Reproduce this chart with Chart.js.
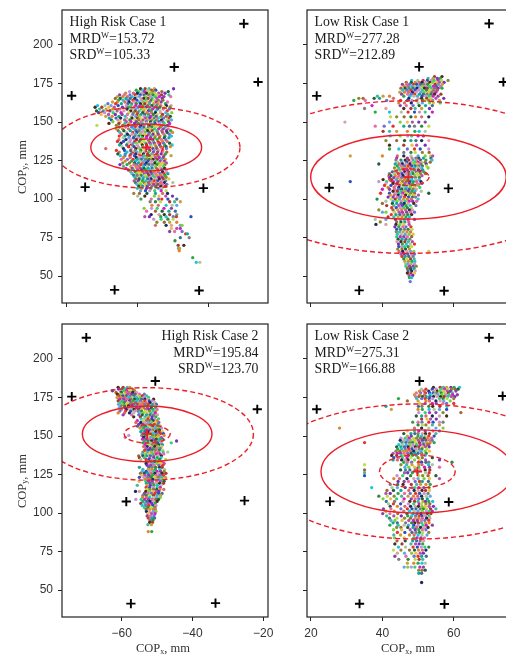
<!DOCTYPE html>
<html><head><meta charset="utf-8">
<script src="https://cdn.jsdelivr.net/npm/chart.js@4"></script>
<style>html,body{margin:0;padding:0;background:#fff;width:506px;height:656px;overflow:hidden}
canvas{position:absolute;display:block}</style></head><body>
<canvas id="a"></canvas><canvas id="b"></canvas><canvas id="c"></canvas><canvas id="d"></canvas>
<script>
const yTicks=[50,75,100,125,150,175,200];
const xTicksHigh1=[-80,-60,-40];
const xTicksHigh2=[-60,-40,-20];
const xTicksLow=[20,40,60];

const sensorsHigh1=[[-30.1,213.8],[-49.7,185.7],[-78.6,167.1],[-74.8,107.8],[-41.5,107.1],[-66.5,41.1],[-42.7,40.7],[-26.1,176]];
const sensorsLow1=[[69.9,213.9],[50.3,185.8],[21.6,167],[25.1,107.4],[58.5,107],[33.5,40.8],[57.3,40.5],[73.9,176]];
const sensorsHigh2=[[-70,213.8],[-50.5,185.7],[-74.1,175.6],[-21.7,167.4],[-58.7,107.5],[-25.3,108.1],[-57.4,41.3],[-33.5,41.6]];
const sensorsLow2=[[69.9,213.8],[50.4,185.7],[21.6,167.4],[73.7,176],[25.3,107.6],[58.6,107.2],[33.6,41.2],[57.4,41]];

const centreHigh1=[-57.6,133.5],centreLow1=[47.3,114.3],centreHigh2=[-52.8,151.4],centreLow2=[49.8,127];
// radii: inner dashed [rx,ry], solid, outer dashed
const radiiHigh1=[[4.8,5.4],[15.6,15.2],[26.4,26.2]];
const radiiLow1=[[5.8,5.4],[27.4,27.3],[49.5,49.5]];
const radiiHigh2=[[6.5,5.9],[18.3,18.1],[30,30]];
const radiiLow2=[[10.6,10.8],[27,27],[43.8,43.8]];

// scatter rows: [y, x, x, x ...]
const rowsHigh1=[
[171.6,-59.2,-57.9,-56.8,-55.3,-49.9],[170.7,-60.4,-58.6,-57.2,-56.1,-54.9],[169.8,-62.3,-59.7,-58.1,-56.7,-55.6,-53.2,-51.4],
[168.7,-63.4,-61.2,-60.1,-58.9,-57.5,-56.3,-55.2,-54.1,-52.3],[167.6,-65.1,-63.8,-62.2,-60.7,-59.3,-58.2,-56.9,-55.7,-54.5,-53.3,-51.2],
[166.5,-65.7,-64.2,-62.9,-61.6,-60.3,-59.5,-57.8,-56.4,-55.1,-53.9,-52.6,-50.7],[165.3,-66.3,-64.9,-63.3,-62.1,-60.8,-59.1,-58.3,-57.1,-55.9,-54.6,-53.1],
[164.2,-65.4,-64.1,-62.7,-61.3,-60.2,-58.8,-57.6,-56.2,-55.4,-54.2,-52.9],[163,-67.1,-65.7,-63.6,-62.4,-60.9,-59.6,-58.4,-57.3,-56.6,-54.8,-53.4,-51.6],
[161.9,-68.4,-66.2,-64.6,-62.8,-61.7,-60.4,-59.2,-58,-56.7,-55.5,-54.3,-52.2],[160.7,-71.3,-69.2,-67.5,-65.5,-63.2,-61.9,-60.6,-59.4,-58.5,-57.2,-56,-54.7,-53.5,-51.9,-50.6],
[159.6,-72,-70.1,-68.1,-66.6,-64.3,-62.6,-61.1,-59.9,-58.7,-57.7,-56.5,-55.3,-53.8,-52.4,-50.9],[158.4,-70.7,-68.9,-67,-65,-63,-61.5,-60.5,-59,-57.9,-56.8,-55.8,-54.4,-52.8,-51.1],
[157.2,-71.6,-69.7,-67.8,-65.8,-63.9,-62,-60.7,-59.6,-58.3,-57,-56.2,-54.9,-53.7,-51.7],[156.1,-71,-69.3,-66.9,-64.7,-62.5,-61.2,-60,-58.6,-57.4,-56.1,-55,-53.6,-52.1,-50.4],
[154.9,-70.3,-68.2,-66.3,-64.4,-62.9,-61.4,-60.2,-59.1,-58,-56.9,-55.6,-54.5,-53,-51.5],[153.7,-69,-67.2,-65.3,-63.5,-61.8,-60.6,-59.5,-58.2,-57.1,-56.3,-54.8,-53.4,-52,-50.8],
[152.6,-68,-66.1,-64.8,-63.1,-61.6,-60.1,-59.3,-57.8,-56.6,-55.4,-54.2,-52.7,-51.2],[151.4,-67.4,-65.6,-63.7,-62.2,-60.8,-59.7,-58.5,-57.3,-56,-54.7,-53.3,-51.8,-50.5],
[150.2,-67,-64.9,-63.2,-61.9,-60.4,-59,-57.6,-56.4,-55.2,-54,-52.9,-51.3],[149.1,-68.1,-65.3,-63.6,-62.4,-60.9,-59.8,-58.7,-57.5,-56.2,-55.1,-53.8,-52.5,-51],
[147.9,-71.5,-66,-64.2,-62.7,-61.3,-60.3,-59.1,-58.1,-56.8,-55.6,-54.3,-53.1,-51.6],[146.8,-65.2,-63.4,-61.7,-60.7,-59.4,-58.3,-57,-56.1,-54.9,-53.6,-52.2],
[145.6,-66.1,-64.3,-62.6,-61.1,-60,-58.9,-57.7,-56.5,-55.3,-54.1,-52.8,-51.4],[144.4,-65.5,-63.9,-62.1,-60.5,-59.6,-58.4,-57.2,-55.9,-54.6,-53.2,-51.9,-50.7],
[143.3,-65,-63.2,-61.4,-60.2,-59,-57.9,-56.7,-55.5,-54.4,-53,-51.7,-50.2],[142.1,-64.6,-62.9,-61.6,-60.6,-59.3,-58.1,-56.9,-55.7,-54.2,-52.6,-51.1],
[140.9,-65.2,-63.6,-62.3,-60.8,-59.7,-58.6,-57.4,-56.2,-55,-53.7,-52.3,-50.5],[139.8,-64.1,-62.5,-61.2,-60,-58.8,-57.6,-56.4,-55.2,-53.9,-52.5,-51.2],
[138.6,-65.3,-63.3,-61.9,-60.4,-59.2,-58.2,-57.1,-55.8,-54.5,-53.3,-52.1],[137.4,-65.7,-64,-62.2,-60.9,-59.5,-58.3,-56.8,-55.6,-54.3,-53,-51.7],
[136.3,-64.7,-62.8,-61.3,-60.3,-59,-57.7,-56.5,-55.3,-54.1,-52.7,-51],[135.1,-65.1,-63.1,-61.5,-60.1,-58.7,-57.5,-56.3,-55.1,-53.8,-52.4,-50.3],
[134,-64.4,-62.6,-61,-59.8,-58.6,-57.3,-56.1,-54.8,-53.5,-52,-50.8],[132.8,-69,-64,-61.8,-60.5,-59.4,-58.1,-57,-55.7,-54.6,-53.2,-51.9],
[131.6,-66,-63.7,-62,-60.7,-59.1,-57.9,-56.6,-55.4,-54.2,-52.9],[130.5,-65.2,-63,-61.4,-60.2,-59.3,-58,-56.9,-55.6,-54.4,-53.1,-51.8],
[129.3,-65.6,-63.5,-61.9,-60.6,-59.6,-58.4,-57.2,-56,-54.7,-53.4,-52.2],[128.2,-64.9,-63.6,-62.2,-60.9,-59.2,-58.2,-56.7,-55.5,-54.3,-52.6,-50.6],
[127,-64,-62.1,-60.4,-59.5,-58.5,-57.4,-56.2,-55,-53.9,-52.8],[125.8,-64.6,-62.9,-61.3,-60.1,-59,-57.8,-56.8,-55.7,-54.5,-53.3,-52.2],
[124.7,-63.5,-61.7,-60.6,-59.4,-58.3,-57.1,-56,-54.9,-53.7,-52.5],[123.5,-64.2,-62.3,-60.9,-59.8,-58.7,-57.6,-56.4,-55.2,-54.1,-53,-51.9],
[122.4,-65,-63,-61.1,-60.3,-59.1,-58,-56.9,-55.8,-54.6,-53.5,-52.3],[121.2,-64,-61.9,-60.5,-59.6,-58.4,-57.3,-56.1,-55,-53.8,-52.7],
[120,-63.3,-61.5,-60.2,-59.2,-58.2,-57,-55.9,-54.7,-53.4,-52.4],[118.9,-62.6,-61.2,-60,-58.9,-57.7,-56.7,-55.5,-54.3,-53.2,-51.9],
[117.7,-62,-60.7,-59.7,-58.6,-57.5,-56.3,-55.3,-54.2,-53,-52],[116.5,-61.6,-60.3,-59.3,-58.1,-57.1,-56,-54.9,-53.7,-52.6,-51.5],
[115.4,-61.1,-60.1,-59,-57.9,-56.8,-55.7,-54.6,-53.5,-52.3],[114.2,-60.8,-59.5,-58.4,-57.4,-56.4,-55.2,-54.1,-53.1,-52],
[113.1,-60.5,-59.6,-58.5,-57.2,-56.2,-55,-53.9,-52.8,-51.2],[111.9,-61,-59.8,-58.7,-57.7,-56.5,-55.4,-54.4,-53.3,-52.1],
[110.7,-60.6,-59.4,-58.2,-57,-55.9,-54.8,-53.6,-52.5,-50.1],[109.6,-60.2,-59.1,-57.8,-56.7,-55.5,-54.3,-53,-51.8],[108.4,-59.7,-58.6,-57.3,-56,-54.9,-53.5,-52.2],
[107,-60.1,-58.9,-57.5,-56.3,-54.2,-53.2],[105.5,-59.2,-57.8,-56.6,-55.2,-53.4,-52],[103.7,-61.1,-59.5,-57.4,-55,-53,-51.6],[102,-60,-58,-55.3,-54,-52.1,-50.2],
[100,-59.1,-56.2,-54.1,-53.2,-51.5,-49],[98.3,-56.5,-55,-53.6,-51,-49.6,-48],[96,-56,-54.2,-52,-50.3,-49],[94,-58.2,-56.1,-54.5,-52.6,-50.5],
[92.2,-57.5,-55,-53.1,-51.2,-49.4],[90,-56.2,-54,-52.5,-51,-49],[88.6,-58,-56.7,-53.5,-52,-50,-49.1,-45],[87,-55.5,-53.4,-51.5,-50],
[85,-54.6,-52.5,-51,-49],[83,-55,-52,-50.5,-48,-47.5],[81,-50.5,-49,-48],[79,-51,-49.6,-47.5],[77.5,-46.5,-46],[75,-48,-45.5],
[73,-49.5],[70,-47,-48.6],[68,-48.5,-48.2],[66.5,-48.3],[62,-44.5],[59,-43.5,-42.5]
];
const rowsLow1=[
[179.5,56.7,54.6],[178.3,52.8,54.2,55.4,56.2],[177,48.2,49.9,51.4,52.6,53.7,54.5,55.6,56.6,58.4],[175.8,46.7,48.1,49.2,50.3,51.1,52.2,53.3,54.1,55.2,56,57.3],
[174.5,45.6,46.8,47.6,48.7,49.6,50.7,51.6,52.7,53.6,54.8,55.7,56.8],[173.2,46.1,47.2,48.3,49.1,50.2,51.3,52.1,53.2,54.3,55.1,56.3],
[172,45.2,46.4,47.5,48.6,49.7,50.6,51.8,52.6,53.7,54.7,55.6,56.7],[170.7,45.7,46.9,48,49.2,50.1,51.2,52.4,53.4,54.4,55.4],
[169.4,44.9,46.2,47.3,48.4,49.5,50.8,51.7,52.9,53.9,55],[168.1,45.4,47.1,48.1,49,50.4,51.5,52.5,53.6,54.6,56.4],[166.8,38.6,40.2,42,46,47.7,48.8,49.8,51.1,52.2,53.1,54.2,55.6],
[165.4,33.4,34.6,37.7,39.2,43.1,47.4,50.1,51,52.4,53.6,55,57.2],[164,32,35.2,41.2,45.1,47,48.3,49.6,51.3,52,53,54.1,56],[162.4,44.6,46.2,48.1,50,51.2,53.2,54.3,56.2],
[160.7,37.1,45,46.7,48.6,50.3,52.1,54],[158.8,35,41,46,48,49.2,51,53.2],[156.5,38,42,45.3,47.2,49,50.4,52,54],[153.4,42.3,44,46.1,48,49.3,51,53],
[150,29.5,42,45,47,48.4,50.2,52],[147.3,38,40.5,43,46,47.6,49,51,53],[144,40.2,42,44,47,49.1,50.3,52],[141,42.2,45,47.1,48.2,50,51.5],
[138,41,44,46.2,48,49.4,51,53],[135,42,46,48.3,49.6,52],[132.5,42,44.6,47,49,50.6,53],[130.3,46,48,49.2,51.2,53.1],[128,31,40,44.2,46,48,50,52,53.5,54.1],
[126.6,44,47,48.3,49.4,50.2,51.5,53.6],[125.3,43.8,45.2,46.4,47.4,48.6,49.6,50.7,52.2,53.9],[124,44.2,45.5,46.8,48,49.1,50,51,52,53.4],
[122.8,39,43.6,44.7,45.6,46.6,47.7,48.8,49.8,50.8,52.3],[121.5,44.2,45.3,46.2,47.2,48.2,49.2,50.2,51.2,52.4],[120.2,43.4,44.6,45.7,46.8,47.8,48.9,49.9,51,52.8],
[119,43.8,44.9,46,47,48.1,49,50.1,51.3],[117.7,42.8,44,45.2,46.3,47.4,48.4,49.5,50.5,51.6],[116.5,41.9,43.4,44.5,45.5,46.6,47.6,48.6,49.7,50.7,52.1],
[115.2,42.4,43.6,44.7,45.8,46.9,47.9,49.1,50.2,51.1],[114,42,43.2,44.3,45.4,46.4,47.3,48.3,49.3,50.4],[112.7,40.2,42.6,43.9,45,46.1,47.1,48.2,49.4,50.3],
[111.4,31,39,41.2,43.1,44.4,45.6,46.7,47.7,48.7,49.6,50.8],[110.2,41,43,44.1,45.2,46.3,47.5,48.5,49.8,51.1],[108.9,40.6,42.4,43.7,44.8,45.9,47,48,49.2,50.1],
[107.6,41.6,43.3,44.6,45.7,46.7,47.8,48.9,50.5],[106.4,40,42,43.5,44.5,45.4,46.5,47.5,48.6,49.5],[105.1,43,44.2,45.3,46.2,47.2,48.3,49.1,50.9],
[103.8,39.5,42,43.6,44.7,45.7,46.8,47.9,49,53],[102.6,42.2,43.3,44.4,45.5,46.5,47.6,48.7,50.1],[101.3,41.6,43,44.2,45.1,46.2,47.3,48.4,49.3],
[100,38.5,42.4,43.6,44.8,45.9,47,48.1,50],[98.6,41,43,44.1,45.3,46.4,47.5,48.5,49.6],[97.2,40,42.8,44,45.2,46.1,47.2,48.8],[95.8,41.2,43.2,44.6,45.6,46.6,47.8,49.4],
[94.4,42.6,43.9,45,46,47,48.1],[93,39,43,44.3,45.4,46.5,47.6,48.4],[91.5,40,41,43.4,44.7,45.6,46.8,47.9,49],[90,42.5,43.8,44.9,46,47.1,48.2],
[88.4,41.6,43.2,44.4,45.5,46.6,47.6],[86.8,38,41,43.7,45,46.1,47.2,49],[85.2,39.4,44,45.2,46.3,47.4],[83.6,38.2,41,43.8,44.9,46,47.5],
[82,43.5,44.6,45.7,46.6,48],[80.4,44,45.1,46.2,47.2,48.3],[78.8,43.9,44.8,45.8,46.9,47.9],[77.2,44.2,45.3,46.4,47.5,48.6],[75.6,44,45,46,47,48.2],
[74,44.4,45.5,46.6,47.7],[72.4,44.1,45.2,46.3,47.3,48.4],[70.8,44.5,45.6,46.7,47.8,49],[69.2,44.6,45.4,46.2,47.2,48.2],[67.6,44.3,45.5,46.5,47.6],
[66,44.7,45.7,46.9,47.9,48.8,53],[64.4,45.2,46.1,47.1,48.1,49],[62.8,45.5,46.4,47.4,48.6],[61.2,46,46.9,47.9,48.9],[59.6,46.3,47.3,48.3,49.1],
[58,46.5,47.1,48,49],[56.5,46.6,47.6,48.6,49.5],[55,47,47.9,48.9],[53.5,47.2,48.2,49.2],[52,47,48,49],[50.5,47.5,48.5],[49,47.6,48.2],[46.5,47.8]
];
const rowsHigh2=[
[181.6,-61,-59.6,-58.4,-57.7],[180.5,-60.9,-60,-59,-58.1,-57],[179.4,-62.6,-60.4,-59.4,-58.6,-57.4,-56.4],[178.3,-61.6,-60.1,-58.8,-57.9,-56.9,-55.8],
[177.2,-61.2,-60.3,-59.2,-58.3,-57.2,-56.2,-55,-53.6],[176.1,-60.8,-59.7,-58.7,-57.6,-56.6,-55.4,-54.2,-53],[175,-61.3,-60.2,-59.1,-58,-57,-55.9,-54.8,-53.7,-52.4],
[173.9,-60.6,-59.5,-58.5,-57.5,-56.4,-55.5,-54.4,-53.4,-52.6,-51],[172.8,-61,-59.9,-58.9,-57.8,-56.8,-55.7,-54.7,-53.5,-52.2,-51.4],[171.7,-60.4,-59.3,-58.2,-57.3,-56.1,-55.2,-54.1,-53.1,-52,-50.6],
[170.6,-60.9,-59.7,-58.6,-57.6,-56.7,-55.6,-54.6,-53.6,-52.5,-51.3,-50.2],[169.5,-60.2,-59.2,-58.1,-57.1,-56.2,-55.1,-54,-52.9,-51.8,-50.6],[168.4,-60.7,-59,-58,-56.9,-55.8,-54.8,-53.8,-52.7,-51.6,-50.4],
[167.3,-60.1,-58.7,-57.7,-56.5,-55.3,-54.3,-53.2,-52.3,-51.2,-50],[166.2,-60.5,-58.9,-57.4,-56.3,-55.4,-54.4,-53.3,-52.1,-51,-50.3],[165,-61,-59.2,-57.8,-56.6,-55,-53.9,-52.8,-51.7,-50.5],
[163.8,-59.6,-57.2,-55.2,-54.2,-53,-52,-51,-49.9],[162.5,-56.6,-54.7,-53.4,-52.4,-51.4,-50.4],[161.2,-54.5,-53.6,-52.6,-51.5,-50.7,-49.6],[160,-55.6,-54.1,-53,-52.2,-51.1,-50],
[158.8,-56,-54.6,-53.5,-52.5,-51.6,-50.5,-49.5],[157.6,-55.2,-54,-52.9,-51.9,-50.8,-49.8],[156.4,-55.5,-54.3,-53.3,-52.3,-51.3,-50.2,-49.1],[155.2,-54.8,-53.8,-52.7,-51.7,-50.6,-49.6,-48.7],
[154,-54.2,-53.2,-52.1,-51.2,-50.1,-49.3],[152.8,-54.6,-53.5,-52.6,-51.5,-50.4,-49.4,-48.5],[151.6,-54,-53,-52,-51,-50,-49,-48.2],[150.4,-58,-54.3,-53.3,-52.4,-51.3,-50.3,-49.6,-48],
[149.2,-59,-53.8,-52.8,-51.8,-50.9,-49.9,-48.8],[148,-54.1,-53.1,-52.2,-51.1,-50.2,-49.2,-48.4],[146.8,-53.6,-52.6,-51.6,-50.6,-49.6,-48.6,-44.5],[145.6,-54,-53,-51.9,-50.9,-49.9,-48.9,-46],
[144.4,-53.4,-52.4,-51.4,-50.4,-49.5,-48.5],[143.2,-53.8,-52.8,-51.7,-50.7,-49.7,-48.7],[142,-53.1,-52,-51.1,-50.1,-49.1],[140.8,-53.5,-52.5,-51.5,-50.5,-49.4,-48.4],
[139.6,-54,-52.7,-51.6,-50.6,-49.6,-48.3,-47],[138.4,-54.2,-53.2,-52.2,-51.2,-50.2,-49.2,-48.1],[137.2,-55.2,-54,-52.9,-51.9,-50.9,-49.8,-48.8],[136,-55,-53.6,-52.1,-51,-50,-48.9],
[134.8,-54.6,-53.1,-52.3,-51.3,-50.3,-49.3,-47.6],[133.5,-52.6,-51.7,-50.7,-49.7,-48.6],[132.2,-53.1,-52.1,-51.2,-50.1,-49.1,-48],[131,-52.8,-51.8,-50.8,-49.5,-48.4],
[129.7,-55,-52.3,-51.4,-50.4,-49.3,-48.6],[128.4,-54,-52.5,-51.5,-50.5,-49.2,-47.9],[127.1,-54.2,-53.1,-52,-51,-50,-49,-48],[125.8,-54.7,-53.6,-52.6,-51.6,-50.6,-49.6,-48.6,-47.5],
[124.5,-54.4,-53.4,-52.3,-51.3,-50.2,-49.2,-48.2],[123.2,-55,-53.7,-52.7,-51.7,-50.7,-49.7,-48.7,-47.6],[121.9,-53.3,-52.2,-51.2,-50.3,-49.4,-48.5],[120.6,-55.1,-53.2,-52.4,-51.4,-50.1,-49,-48],
[119.3,-53,-52,-51.1,-50.2,-49.3,-48.2],[118,-55.6,-52.8,-51.9,-50.9,-49.9,-48.9],[116.7,-53.1,-52.1,-51.1,-50,-49.1],[115.4,-52.9,-52,-51,-50.1,-49.2,-48.1],
[114.1,-56.1,-55,-53.2,-52.2,-51.2,-50.2,-49.5],[112.8,-53.6,-52.6,-51.6,-50.6,-49.6,-48.6],[111.5,-54,-53.1,-52,-51,-50,-49],[110.2,-54.1,-53,-52.1,-51.1,-50.1,-49.1],
[108.9,-56,-54.5,-53.5,-52.4,-51.4,-50.4,-49.6],[107.6,-54,-52.9,-52,-50.9,-50],[106.3,-54.6,-53.4,-52.5,-51.5,-50.5],[105,-54.2,-53.2,-52.3,-51.2,-50.3],
[103.7,-53.6,-52.6,-51.6,-50.6],[102.4,-53.1,-52.1,-51.1,-50.5],[101,-53,-52,-51,-50.3],[99.6,-52.6,-51.6,-50.6],[98.2,-52.8,-51.9,-50.9],[96.8,-52.5,-51.5,-50.7],
[95.4,-52,-51.2],[94,-52.1,-51.3],[92.5,-52.6,-51.6],[88,-52.5,-51.5]
];
const rowsLow2=[
[181.6,54.3,56.2,57.1,58,59.2,60.1,61.6],[180.4,51,52.2,54,55.1,56.4,57.4,58.3,59.4,60.4,61.2],[179.2,50.4,51.6,53,54.4,55.4,56,57.2,58.2,59.1,60.6],[178,49.5,50.7,52.1,53.2,54.2,55.2,56.5,57.5,58.5,59.6],
[176.8,49,50.5,51.8,53.4,54.6,55.6,56.7,57.7,58.7,59.7,61],[175.6,49.3,50.2,51.2,52.3,53.3,54.3,55.3,56.3,57.3,58.3,59.3,60.3],[174.3,44.5,49.6,51,52,53.1,54.1,56,57,58.1,60],
[172.8,47,50,52.2,53.2,55,56.2,57.2,59],[171.2,50.5,52,54,55.1,57,58,60],[169.3,41,50.1,51.1,53,54.1,56.1,58.1],[167.3,42.5,50,51.2,53.1,54.5,56,58],[165.2,50.2,52,53.2,55,57,62],
[163,49.5,51,52.2,54,56,58],[161,51,52.5,53.5,55.1],[159,48.5,50,51.1,53,54.2,56,57],[157.2,50,51.2,52.2,54,56],[155.2,28,49,51,53,55,57],[153.3,47,49,50.2,52,54.2,56],
[151.6,46,48,49.1,50,51.2,52.1,53.2,55],[150,47,48.1,50,51,52,53,54.5],[148.6,45.2,46.4,47.5,48.7,49.6,50.7,51.7,52.7,53.8],[147.2,45,46,47,48,49,50.1,51.2,52.2,53.2,54],
[145.8,35,45.5,46.6,47.6,48.5,49.4,50.4,51.4,52.4,53.4,54.5],[144.4,44.6,45.6,46.7,47.7,48.6,49.6,50.6,51.6,52.6,53],[143,44,45.2,46.2,47.2,48.2,49.2,50.2,51.3,52.1,53.1],
[141.6,44.3,45.4,46.4,47.4,48.3,49.3,50.3,51.1,52.5],[140.2,43.8,44.9,45.9,46.8,47.8,48.8,49.8,50.8,52,53.2],[138.8,43,44.2,45.1,46.1,47.1,48.1,49.1,50,51,52.3],
[137.4,42.6,44,45.3,46.3,47.3,48.4,49.5,51,52],[136,43.2,44.5,45.6,46.9,48,50,51.2,54],[134.5,43,44.2,45.4,46.3,47.2,49,50.5,52.1,56],[133,46,47,48.2,50.1,51,52.2,53,59.5],
[131.4,35,45.2,46.8,48.3,50.2,51.1,52.9,54],[129.8,46.3,47.4,49,50.2,51.8,53.2,56],[128,35,45.1,46.5,47.7,49.2,50.5,52,53.3],[126.2,35,46.2,47.1,48.4,49.9,52.1,53.1],[124.3,35,44.1,45.7,47.9,50.2,51.3,52.8,55],
[122.4,43.2,44.8,46.9,48.8,50,51.7,53.2,56],[120.5,44.4,46.1,47.3,49.2,50.4,51.2,52.9],[118.6,42.2,44.3,45.8,48.1,49.6,50.7,52.2,53.4],[116.6,37,42.7,44.2,46.4,48.3,49.1,50.2,51.6,53.1],[114.7,41.3,43.1,45.2,47.4,48.9,50,51.1,52.1,53.2],
[112.8,41,42.2,44.4,46.2,47.8,49.3,50.4,51.7,52.8],[111,39,41.4,43.3,45.4,47.2,48.7,49.9,51,52.3,53.4],[109.3,40.2,42.3,44,46.1,48.1,49.2,50.2,51.2,52.6],[107.6,41.1,43.4,45.8,47.7,49,50,51.4,52.1,53,54.1],
[106,41.7,43.1,45.1,47.3,48.8,50.3,51,52.2,53.3],[104.4,42.2,44.2,46.3,47.9,49.2,50.1,51.1,52,53.1,54.3],[102.8,40.3,42.4,45.2,47,48.3,49.4,50.6,51.5,52.4,53.5,55],[101.2,41,43.3,46,47.6,48.9,50,51.2,52.3,53.2,54],
[99.7,40.1,42.1,44.3,46.9,48.6,49.7,50.8,51.7,52.6,53.6],[98.2,41.2,43.2,45.3,47.1,48.2,49.3,50.3,51.1,52.1,53.1],[96.7,42,44.1,46.2,47.9,49.2,50.2,51.2,52.4,53.3],[95.2,42.4,43.5,45.5,47.4,48.7,49.8,50.9,51.9,53],
[93.7,43,44.2,46.5,48.2,49.1,50.1,51,52.1,53.1],[92.2,42.1,44.4,46.1,47.3,48.8,50,51.4,52.3,54],[90.7,44,45.2,47.1,48.6,49.6,50.7,51.7,52.8],[89.2,43.1,45.4,47.8,49.2,50.2,51.2,52.2],[87.5,44.2,46.3,48.3,49.4,50.4,51.3,53],
[85.8,43.2,45.1,47.6,48.9,50,51.1,52.5],[84,43.4,46.1,48.8,49.7,50.8,51.8],[82,44.1,46.4,48.5,49.6,50.6,51.6],[80,43.5,45.5,48,49.3,50.3,51.3],[78,44.5,46.5,48.6,49.8,50.9,51.9,53],
[76,43.1,45.2,47.6,49,50.1,51.2,52.2],[74,44.2,46.2,48.2,49.4,50.6,51.5],[72,43.5,46.6,48.9,50,51,52.3],[70,44.6,47.2,49.2,50.3,51.3],[67.5,47,48.8,50,51.1,52],[65,46.1,47.1,48.1,49.1,50.5,51.5],
[63,50.2,51.1,52],[61,50.2,51],[55,51]
];
const palette=["#2e8b3d","#d01fc8","#7b2fbf","#e0862a","#13a89a","#2b4fc0","#7fd13b","#a83a2c","#8a8a2e","#e86aa6","#1fc4d8","#1c2a5e",
"#7d7d7d","#33d17a","#b54fb0","#c9a13b","#1f5f3a","#e6342d","#5fa8e8","#4a2a1a","#b8e04a","#8e3fa8","#2aa84a","#d86a6a","#3f6f8f","#c78fd8",
"#e8c04a","#46b89e","#9b6a3a","#6f6fd8","#a8c8a0","#d8a0a8"];

const serif='"Liberation Serif"', sans='"Liberation Sans"';
function flatten(rows){const out=[];rows.forEach(r=>r.slice(1).forEach(x=>out.push({x,y:r[0]})));return out;}
function tup(list){return list.map(p=>({x:p[0],y:p[1]}));}

function decor(cfg){return {id:'decor',
  afterDraw(ch){
    const {ctx,chartArea:a,scales:{x,y}}=ch;
    ctx.save();
    ctx.beginPath();ctx.rect(a.left,a.top,a.right-a.left,a.bottom-a.top);ctx.clip();
    const cx=x.getPixelForValue(cfg.centre[0]),cy=y.getPixelForValue(cfg.centre[1]);
    cfg.radii.forEach((r,i)=>{
      ctx.beginPath();
      ctx.ellipse(cx,cy,Math.abs(x.getPixelForValue(cfg.centre[0]+r[0])-cx),Math.abs(y.getPixelForValue(cfg.centre[1]+r[1])-cy),0,0,Math.PI*2);
      ctx.lineWidth=1.4;ctx.strokeStyle='#ee1c25';ctx.setLineDash(i===1?[]:[5,3]);ctx.stroke();
    });
    ctx.restore();
    ctx.save();
    ctx.strokeStyle='#222';ctx.lineWidth=1.2;ctx.strokeRect(a.left,a.top,a.right-a.left,a.bottom-a.top);
    ctx.fillStyle='#1a1a1a';ctx.textBaseline='alphabetic';
    const main='13.8px '+serif,sup='8.5px '+serif;
    const lines=[[cfg.title],['MRD','W','='+cfg.mrd],['SRD','W','='+cfg.srd]];
    lines.forEach((ln,i)=>{
      const yy=a.top+16+i*16.7;
      ctx.font=main;let w=ctx.measureText(ln[0]).width;
      if(ln.length>1){w+=ctx.measureText(ln[2]).width;ctx.font=sup;w+=ctx.measureText(ln[1]).width;}
      let xx=cfg.right?a.right-9.5-w:a.left+7.5;
      ctx.textAlign='left';
      ctx.font=main;ctx.fillText(ln[0],xx,yy);xx+=ctx.measureText(ln[0]).width;
      if(ln.length>1){ctx.font=sup;ctx.fillText(ln[1],xx,yy-5);xx+=ctx.measureText(ln[1]).width;
        ctx.font=main;ctx.fillText(ln[2],xx,yy);}
    });
    function axisName(sub,px,py,rot){
      const f='12.5px '+serif,s='8px '+serif;
      ctx.save();ctx.translate(px,py);ctx.rotate(rot);ctx.fillStyle='#333';ctx.textAlign='left';ctx.textBaseline='alphabetic';
      ctx.font=f;const w1=ctx.measureText('COP').width,w3=ctx.measureText(', mm').width;
      ctx.font=s;const w2=ctx.measureText(sub).width;
      let t=-(w1+w2+w3)/2;
      ctx.font=f;ctx.fillText('COP',t,4);t+=w1;
      ctx.font=s;ctx.fillText(sub,t,5.5);t+=w2;
      ctx.font=f;ctx.fillText(', mm',t,4);
      ctx.restore();
    }
    if(cfg.yTitle) axisName('y',21.7,(a.top+a.bottom)/2+10.5,-Math.PI/2);
    if(cfg.xTitle) axisName('x',(a.left+a.right)/2-2,ch.height-8,0);
    ctx.restore();
  }};}

function panel(id,cfg){
  const el=document.getElementById(id);
  el.style.left=cfg.box[0]+'px';el.style.top=cfg.box[1]+'px';
  el.width=cfg.box[2];el.height=cfg.box[3];
  el.style.width=cfg.box[2]+'px';el.style.height=cfg.box[3]+'px';
  const pts=flatten(cfg.rows);
  const colors=pts.map((p,i)=>palette[Math.imul(i+1,2654435761)>>>27]);
  new Chart(el,{type:'scatter',
    data:{datasets:[
      {label:'COP',data:pts,backgroundColor:colors,borderWidth:0,pointRadius:1.65,pointStyle:'circle',order:3},
      {label:'Sensors',data:tup(cfg.sensors),pointStyle:'cross',pointRadius:4.6,borderColor:'#000',borderWidth:1.9,backgroundColor:'#000',clip:false,order:1},
      {label:'Mean',data:[{x:cfg.centre[0],y:cfg.centre[1]}],pointStyle:'cross',pointRadius:4.8,borderColor:'#ee1c25',borderWidth:1.8,order:0}
    ]},
    options:{responsive:false,animation:false,events:[],
      layout:{padding:{top:cfg.pad[0],right:cfg.pad[1],bottom:0,left:0}},
      plugins:{legend:{display:false},tooltip:{enabled:false}},
      scales:{
        x:{type:'linear',min:cfg.xr[0],max:cfg.xr[1],
          afterBuildTicks(s){s.ticks=cfg.xTicks.map(v=>({value:v}));},
          afterFit(s){s.height=cfg.xh;},
          grid:{drawOnChartArea:false,drawTicks:true,tickLength:4,color:'#222',lineWidth:1},
          border:{display:false},
          ticks:{display:cfg.xLabels,padding:5,maxRotation:0,autoSkip:false,color:'#333',font:{family:sans,size:12},
            callback:v=>String(v).replace('-','\u2212')}},
        y:{type:'linear',min:32.6,max:222.7,
          afterBuildTicks(s){s.ticks=yTicks.map(v=>({value:v}));},
          afterFit(s){s.width=cfg.yw;},
          grid:{drawOnChartArea:false,drawTicks:true,tickLength:4,color:'#222',lineWidth:1},
          border:{display:false},
          ticks:{display:cfg.yLabels,padding:5,autoSkip:false,color:'#333',font:{family:sans,size:12}}}
      }},
    plugins:[decor(cfg)]
  });
}
panel('a',{box:[0,-10,290,330],pad:[20,22],xh:17,yw:62,xr:[-81.32,-23.3],xTicks:xTicksHigh1,xLabels:false,yLabels:true,yTitle:true,rows:rowsHigh1,sensors:sensorsHigh1,centre:centreHigh1,radii:radiiHigh1,title:'High Risk Case 1',mrd:'153.72',srd:'105.33'});
panel('b',{box:[270,-10,250,330],pad:[20,7],xh:17,yw:37,xr:[18.88,76.6],xTicks:xTicksLow,xLabels:false,yLabels:false,rows:rowsLow1,sensors:sensorsLow1,centre:centreLow1,radii:radiiLow1,title:'Low Risk Case 1',mrd:'277.28',srd:'212.89'});
panel('c',{box:[0,310,290,346],pad:[14,22],xh:39,yw:62,xr:[-76.86,-18.67],xTicks:xTicksHigh2,xLabels:true,yLabels:true,yTitle:true,xTitle:true,right:true,rows:rowsHigh2,sensors:sensorsHigh2,centre:centreHigh2,radii:radiiHigh2,title:'High Risk Case 2',mrd:'195.84',srd:'123.70'});
panel('d',{box:[270,310,250,346],pad:[14,7],xh:39,yw:37,xr:[18.88,76.6],xTicks:xTicksLow,xLabels:true,yLabels:false,xTitle:true,rows:rowsLow2,sensors:sensorsLow2,centre:centreLow2,radii:radiiLow2,title:'Low Risk Case 2',mrd:'275.31',srd:'166.88'});
</script></body></html>
